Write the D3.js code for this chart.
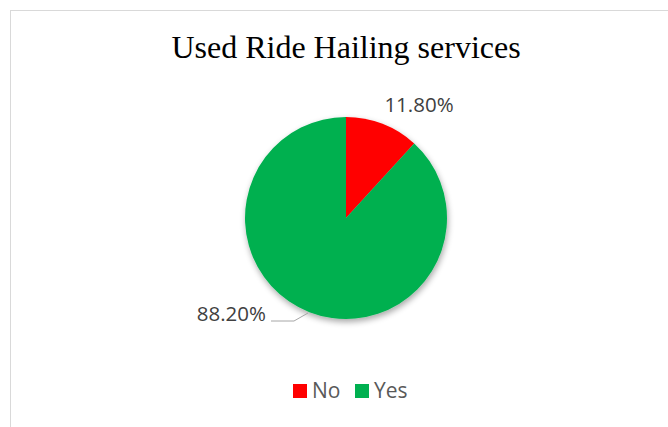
<!DOCTYPE html>
<html>
<head>
<meta charset="utf-8">
<script src="https://cdn.jsdelivr.net/npm/d3@7"></script>
<style>
  body { margin: 0; background: #fff; }
  svg { display: block; }
</style>
</head>
<body>
<div id="chart"></div>
<script>
const categories = ["No", "Yes"];
const values = [11.8, 88.2];
const labels = ["11.80%", "88.20%"];
const colors = ["#FF0000", "#00B050"];

const width = 668, height = 427;
const cx = 346, cy = 218, radius = 101;

const svg = d3.select("#chart").append("svg")
  .attr("width", width)
  .attr("height", height);

const defs = svg.append("defs");
const shadow = defs.append("filter").attr("id", "shadow")
  .attr("x", "-20%").attr("y", "-20%").attr("width", "140%").attr("height", "140%");
shadow.append("feGaussianBlur").attr("in", "SourceAlpha").attr("stdDeviation", 3);
shadow.append("feOffset").attr("dx", 1).attr("dy", 3).attr("result", "ob");
shadow.append("feComponentTransfer").append("feFuncA").attr("type", "linear").attr("slope", 0.35);
const merge = shadow.append("feMerge");
merge.append("feMergeNode");
merge.append("feMergeNode").attr("in", "SourceGraphic");

// chart frame
svg.append("rect")
  .attr("x", 10.5).attr("y", 10.5)
  .attr("width", width).attr("height", height)
  .attr("fill", "#fff")
  .attr("stroke", "#d9d9d9")
  .attr("stroke-width", 1);

svg.append("text")
  .attr("x", cx)
  .attr("y", 58)
  .attr("text-anchor", "middle")
  .attr("font-family", "'Liberation Serif', 'Times New Roman', serif")
  .attr("font-size", 32)
  .attr("fill", "#000")
  .text("Used Ride Hailing services");

const data = categories.map((c, i) => ({ name: c, value: values[i], label: labels[i], color: colors[i] }));

const pie = d3.pie().sort(null).value(d => d.value);
const arcs = pie(data);
const arc = d3.arc().innerRadius(0).outerRadius(radius);

const g = svg.append("g").attr("transform", `translate(${cx},${cy})`);

g.append("g").attr("filter", "url(#shadow)")
  .selectAll("path")
  .data(arcs)
  .join("path")
  .attr("d", arc)
  .attr("fill", d => d.data.color);

// data labels
const labelFont = "'Open Sans', 'Liberation Sans', sans-serif";
const labelPos = [[73, -106], [-80, 103]];

// leader line for the Yes label
g.append("path")
  .attr("d", "M-75,103 L-52,103 L-38,95")
  .attr("fill", "none")
  .attr("stroke", "#a6a6a6")
  .attr("stroke-width", 1);

g.selectAll("text.lbl")
  .data(arcs)
  .join("text")
  .attr("class", "lbl")
  .attr("x", (d, i) => labelPos[i][0])
  .attr("y", (d, i) => labelPos[i][1])
  .attr("text-anchor", (d, i) => i === 0 ? "middle" : "end")
  .attr("font-family", labelFont)
  .attr("font-size", 20.5)
  .attr("fill", "#404040")
  .text(d => d.data.label);

// legend
const legend = svg.append("g").attr("transform", "translate(293,384)");
const items = legend.selectAll("g")
  .data(data)
  .join("g")
  .attr("transform", (d, i) => `translate(${i * 62},0)`);
items.append("rect")
  .attr("width", 14).attr("height", 14)
  .attr("fill", d => d.color);
items.append("text")
  .attr("x", 19).attr("y", 14)
  .attr("font-family", labelFont)
  .attr("font-size", 21)
  .attr("fill", "#595959")
  .text(d => d.name);
</script>
</body>
</html>
